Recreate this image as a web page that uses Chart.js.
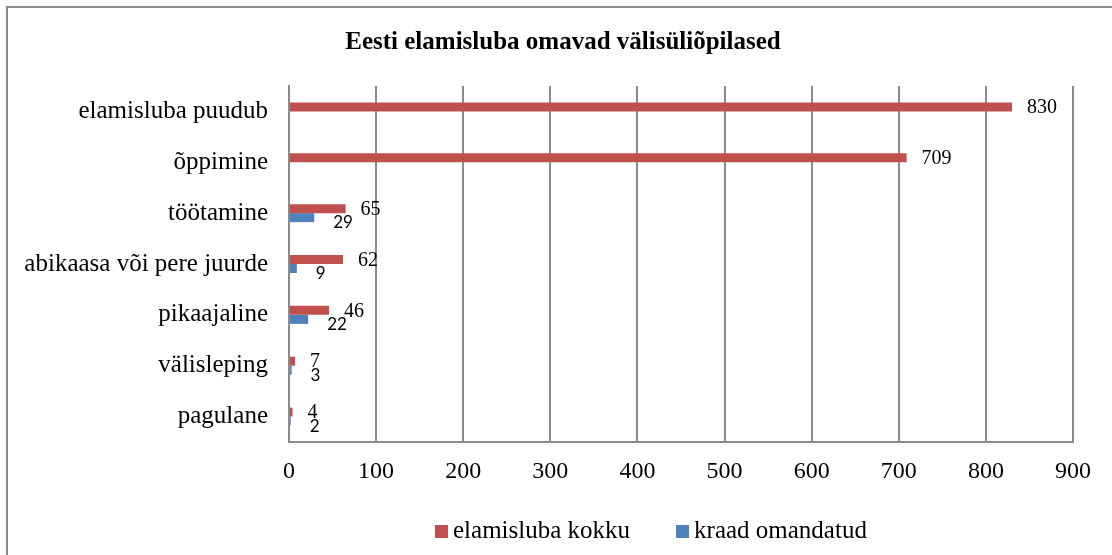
<!DOCTYPE html>
<html>
<head>
<meta charset="utf-8">
<script src="https://cdn.jsdelivr.net/npm/chart.js@4"></script>
<style>
  html, body { margin: 0; padding: 0; background: #fff; }
  #wrap { position: relative; width: 1112px; height: 555px; overflow: hidden; }
  #frame { position: absolute; left: 6px; top: 6px; width: 1300px; height: 800px;
           border-top: 2px solid #8c8c8c; border-left: 2px solid #8c8c8c; }
  canvas { position: absolute; left: 0; top: 0; }
</style>
</head>
<body>
<div id="wrap">
  <div id="frame"></div>
  <canvas id="chart" width="1112" height="555"></canvas>
</div>
<script>
// data
const chartTitle = 'Eesti elamisluba omavad välisüliõpilased';
const categories = ['elamisluba puudub', 'õppimine', 'töötamine', 'abikaasa või pere juurde', 'pikaajaline', 'välisleping', 'pagulane'];
const seriesNames = ['elamisluba kokku', 'kraad omandatud'];
const totalValues = [830, 709, 65, 62, 46, 7, 4];
const degreeValues = [null, null, 29, 9, 22, 3, 2];
const xTickMin = 0;
const xTickMax = 900;
const xTickStep = 100;

const serif = '"Liberation Serif", "Times New Roman", serif';
const gridGray = '#8c8c8c';

// value labels next to the bar ends
const barLabels = {
  id: 'barLabels',
  afterDatasetsDraw(chart) {
    const ctx = chart.ctx;
    ctx.save();
    ctx.textAlign = 'left';
    ctx.textBaseline = 'middle';
    ctx.fillStyle = '#000';
    chart.data.datasets.forEach((ds, i) => {
      const meta = chart.getDatasetMeta(i);
      ctx.font = i === 0 ? '20px ' + serif : '17px Lato, sans-serif';
      meta.data.forEach((bar, j) => {
        const v = ds.data[j];
        if (v == null) return;
        const dx = i === 0 ? 15 : 19;
        const dy = i === 0 ? 1 : 5;
        ctx.fillText(String(v), bar.x + dx, bar.y + dy);
      });
    });
    ctx.restore();
  }
};

// title and legend, drawn the way the original places them
const titleAndLegend = {
  id: 'titleAndLegend',
  afterDraw(chart) {
    const ctx = chart.ctx;
    ctx.save();
    ctx.fillStyle = '#000';
    ctx.textBaseline = 'middle';
    ctx.textAlign = 'center';
    ctx.font = 'bold 25px ' + serif;
    ctx.fillText(chartTitle, 563, 43);

    ctx.textAlign = 'left';
    ctx.font = '25px ' + serif;
    let x = 435;
    const y = 531;
    chart.data.datasets.forEach(ds => {
      ctx.fillStyle = ds.backgroundColor;
      ctx.fillRect(x, y - 6, 13, 13);
      ctx.fillStyle = '#000';
      ctx.fillText(ds.label, x + 18, y);
      x += 18 + ctx.measureText(ds.label).width + 46;
    });
    ctx.restore();
  }
};

const ctx = document.getElementById('chart').getContext('2d');
new Chart(ctx, {
  type: 'bar',
  data: {
    labels: categories,
    datasets: [
      { label: seriesNames[0], data: totalValues, backgroundColor: '#C0504D' },
      { label: seriesNames[1], data: degreeValues, backgroundColor: '#4F81BD' }
    ]
  },
  options: {
    indexAxis: 'y',
    responsive: false,
    animation: false,
    datasets: { bar: { barPercentage: 1, categoryPercentage: 0.354 } },
    layout: { padding: { left: 0, right: 39, top: 86, bottom: 44 } },
    plugins: {
      legend: { display: false },
      title: { display: false },
      tooltip: { enabled: false }
    },
    scales: {
      x: {
        min: xTickMin,
        max: xTickMax,
        ticks: { stepSize: xTickStep, color: '#000', font: { family: serif, size: 24 }, padding: 15 },
        grid: { color: gridGray, lineWidth: 2, drawTicks: false },
        border: { color: gridGray, width: 2 },
        afterFit: s => { s.height = 69; }
      },
      y: {
        ticks: { color: '#000', font: { family: serif, size: 25 }, padding: 21 },
        grid: { display: false, drawTicks: false },
        border: { color: gridGray, width: 2 },
        afterFit: s => { s.width = 289; }
      }
    }
  },
  plugins: [barLabels, titleAndLegend]
});
</script>
</body>
</html>
